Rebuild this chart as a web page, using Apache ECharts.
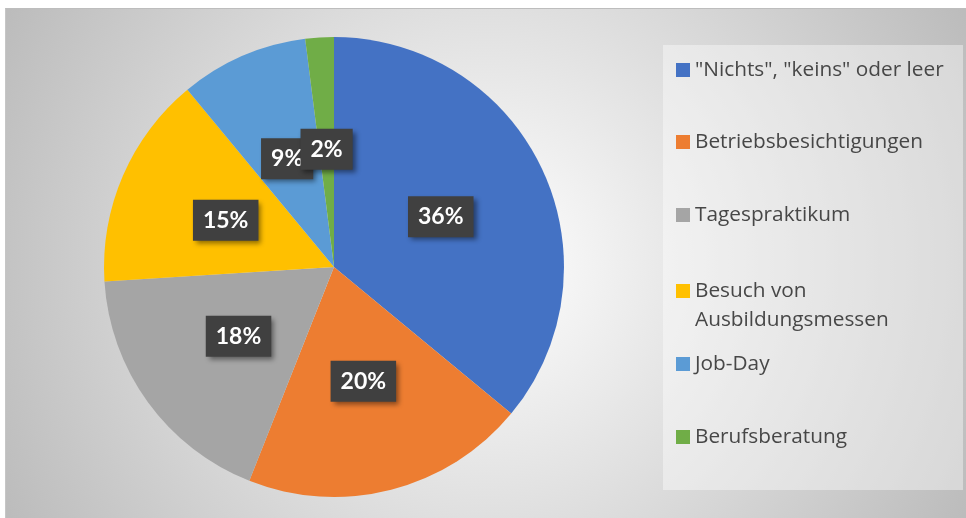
<!DOCTYPE html>
<html>
<head>
<meta charset="utf-8">
<script src="https://cdn.jsdelivr.net/npm/echarts@6/dist/echarts.min.js"></script>
<style>
  html, body { margin: 0; padding: 0; background: #ffffff; width: 966px; height: 518px; overflow: hidden; }
  #chart { position: absolute; left: 6px; top: 9px; width: 960px; height: 509px; }
  #frame { position: absolute; left: 5px; top: 8px; width: 961px; height: 510px; box-sizing: border-box; border-top: 1px solid #bdbdbd; border-left: 1px solid #c6c6c6; }
</style>
</head>
<body>
<div id="frame"></div>
<div id="chart"></div>
<script>
// ---- data ----
const categories = ['"Nichts", "keins" oder leer', 'Betriebsbesichtigungen', 'Tagespraktikum', 'Besuch von Ausbildungsmessen', 'Job-Day', 'Berufsberatung'];
const values = [36, 20, 18, 15, 9, 2];
const colors = ['#4472C4', '#ED7D31', '#A5A5A5', '#FFC000', '#5B9BD5', '#70AD47'];
const legendLabels = ['"Nichts", "keins" oder leer', 'Betriebsbesichtigungen', 'Tagespraktikum', '\nBesuch von\nAusbildungsmessen', 'Job-Day', 'Berufsberatung'];

// ---- layout (container offset 6,9) ----
const legendCenters = [70, 142, 215, 291, 364, 437].map(v => v - 9);
const FONT = 'Lato, "Open Sans", sans-serif';
const LEGEND_FONT = '"Open Sans", Lato, sans-serif';

const chart = echarts.init(document.getElementById('chart'), null, { renderer: 'canvas' });

const legends = categories.map((name, i) => {
  const multi = legendLabels[i].indexOf('\n') >= 0;
  const lh = 29;
  const h = multi ? lh * 3 : lh;
  return {
    orient: 'vertical',
    left: 670,
    top: legendCenters[i] - h / 2,
    padding: 0,
    itemWidth: 14,
    itemHeight: 14,
    itemGap: 5,
    icon: 'rect',
    selectedMode: false,
    data: [name],
    formatter: () => legendLabels[i],
    textStyle: { fontFamily: LEGEND_FONT, fontSize: 20.8, color: '#474747', lineHeight: lh, padding: [0, 0, 0, 0] }
  };
});

const option = {
  animation: false,
  backgroundColor: {
    type: 'radial', x: 0.5, y: 0.5, r: 1.06,
    colorStops: [{ offset: 0, color: '#ffffff' }, { offset: 1, color: '#bcbcbc' }]
  },
  color: colors,
  graphic: [{
    type: 'rect', left: 657, top: 36, silent: true, z: -1,
    shape: { width: 300, height: 445 },
    style: { fill: 'rgba(255,255,255,0.4)' }
  }],
  legend: legends,
  series: [{
    type: 'pie',
    center: [328, 258],
    radius: [0, 230],
    startAngle: 90,
    clockwise: true,
    avoidLabelOverlap: false,
    minShowLabelAngle: 0,
    data: categories.map((n, i) => ({ name: n, value: values[i] })),
    itemStyle: { borderWidth: 0 },
    label: {
      show: true,
      position: 'inside',
      formatter: p => Math.round(p.percent) + '%',
      fontFamily: FONT,
      fontWeight: 'bold',
      fontSize: 23,
      lineHeight: 24,
      color: '#ffffff',
      backgroundColor: '#404040',
      padding: [9, 10, 8, 10],
      shadowBlur: 5, shadowOffsetX: 3, shadowOffsetY: 3, shadowColor: 'rgba(0,0,0,0.45)'
    },
    labelLayout: { hideOverlap: false },
    labelLine: { show: false },
    emphasis: { disabled: true }
  }]
};
chart.setOption(option);
</script>
</body>
</html>
